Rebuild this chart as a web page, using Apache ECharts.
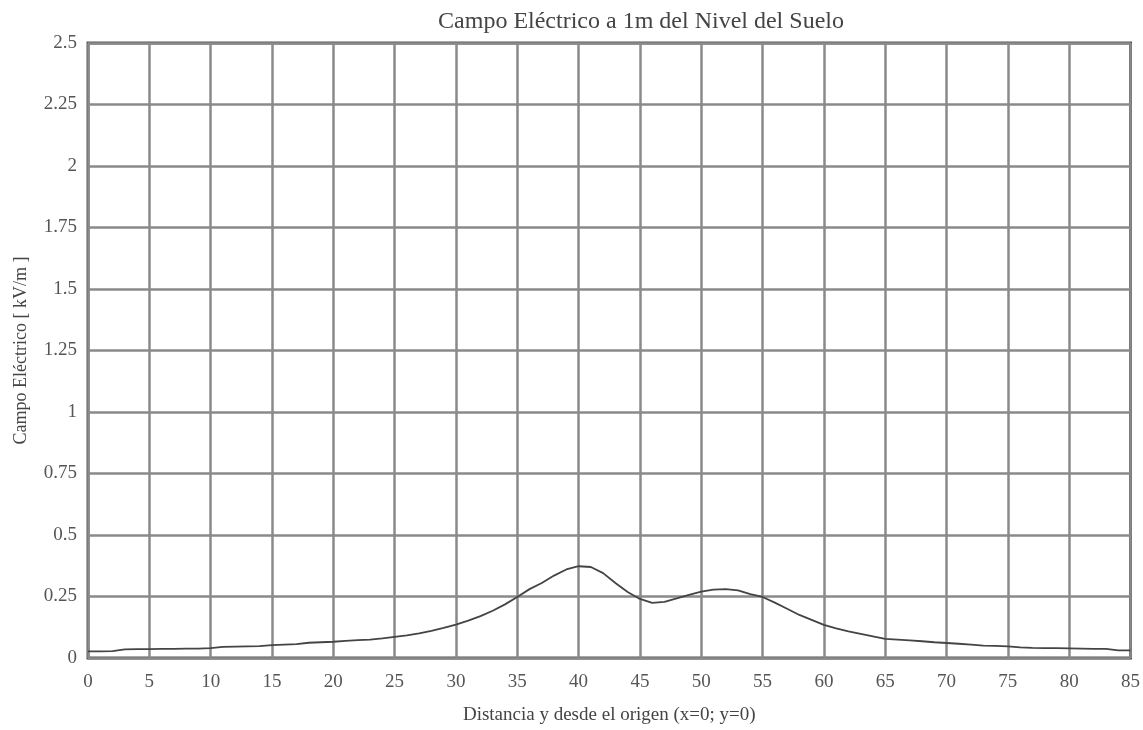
<!DOCTYPE html>
<html>
<head>
<meta charset="utf-8">
<script src="https://cdn.jsdelivr.net/npm/echarts@6/dist/echarts.min.js"></script>
<style>
html,body{margin:0;padding:0;background:#fff;}
#chart{width:1143px;height:730px;}
</style>
</head>
<body>
<div id="chart"></div>
<script>
const titleText = 'Campo Eléctrico a 1m del Nivel del Suelo';
const xName = 'Distancia y desde el origen (x=0; y=0)';
const yName = 'Campo Eléctrico [ kV/m ]';
const distance = [0,1,2,3,4,5,6,7,8,9,10,11,12,13,14,15,16,17,18,19,20,21,22,23,24,25,26,27,28,29,30,31,32,33,34,35,36,37,38,39,40,41,42,43,44,45,46,47,48,49,50,51,52,53,54,55,56,57,58,59,60,61,62,63,64,65,66,67,68,69,70,71,72,73,74,75,76,77,78,79,80,81,82,83,84,85];
const field = [0.027,0.027,0.028,0.035,0.036,0.036,0.037,0.037,0.038,0.038,0.040,0.045,0.046,0.047,0.048,0.052,0.054,0.056,0.062,0.064,0.066,0.070,0.073,0.075,0.080,0.086,0.092,0.100,0.110,0.122,0.136,0.152,0.170,0.192,0.218,0.248,0.280,0.305,0.335,0.360,0.373,0.370,0.345,0.305,0.268,0.240,0.224,0.228,0.242,0.257,0.270,0.278,0.280,0.275,0.260,0.248,0.225,0.200,0.175,0.155,0.135,0.120,0.108,0.098,0.088,0.078,0.075,0.072,0.068,0.064,0.061,0.058,0.054,0.050,0.049,0.047,0.043,0.041,0.040,0.040,0.039,0.038,0.037,0.037,0.031,0.031];

const chart = echarts.init(document.getElementById('chart'), null, {renderer:'canvas'});
const font = '"Liberation Serif", "DejaVu Serif", serif';
chart.setOption({
  animation:false,
  backgroundColor:'#fff',
  title:{text:titleText,left:636,top:5,textAlign:'center',
    textStyle:{fontFamily:font,fontSize:24,fontWeight:'normal',color:'#444'}},
  grid:{left:88,right:10,top:43,bottom:70,show:true,borderColor:'#555',borderWidth:3,backgroundColor:'transparent'},
  xAxis:{type:'value',min:0,max:85,interval:5,
    name:xName,nameLocation:'middle',nameGap:48,
    nameTextStyle:{fontFamily:font,fontSize:19,color:'#444'},
    axisLine:{show:false},axisTick:{show:false},
    axisLabel:{fontFamily:font,fontSize:19,color:'#555',margin:15},
    splitLine:{show:true,lineStyle:{color:'#8a8a8a',width:2.5}}},
  yAxis:{type:'value',min:0,max:2.5,interval:0.25,
    name:yName,nameLocation:'middle',nameGap:58,
    nameTextStyle:{fontFamily:font,fontSize:18,color:'#444'},
    axisLine:{show:false},axisTick:{show:false},
    axisLabel:{fontFamily:font,fontSize:19,color:'#555',margin:11,
      formatter:function(v){return String(+v.toFixed(2));}},
    splitLine:{show:true,lineStyle:{color:'#8a8a8a',width:2.5}}},
  series:[{type:'line',data:distance.map((d,i)=>[d,field[i]]),
    showSymbol:false,lineStyle:{color:'#444',width:1.8},z:5}]
});
</script>
</body>
</html>
